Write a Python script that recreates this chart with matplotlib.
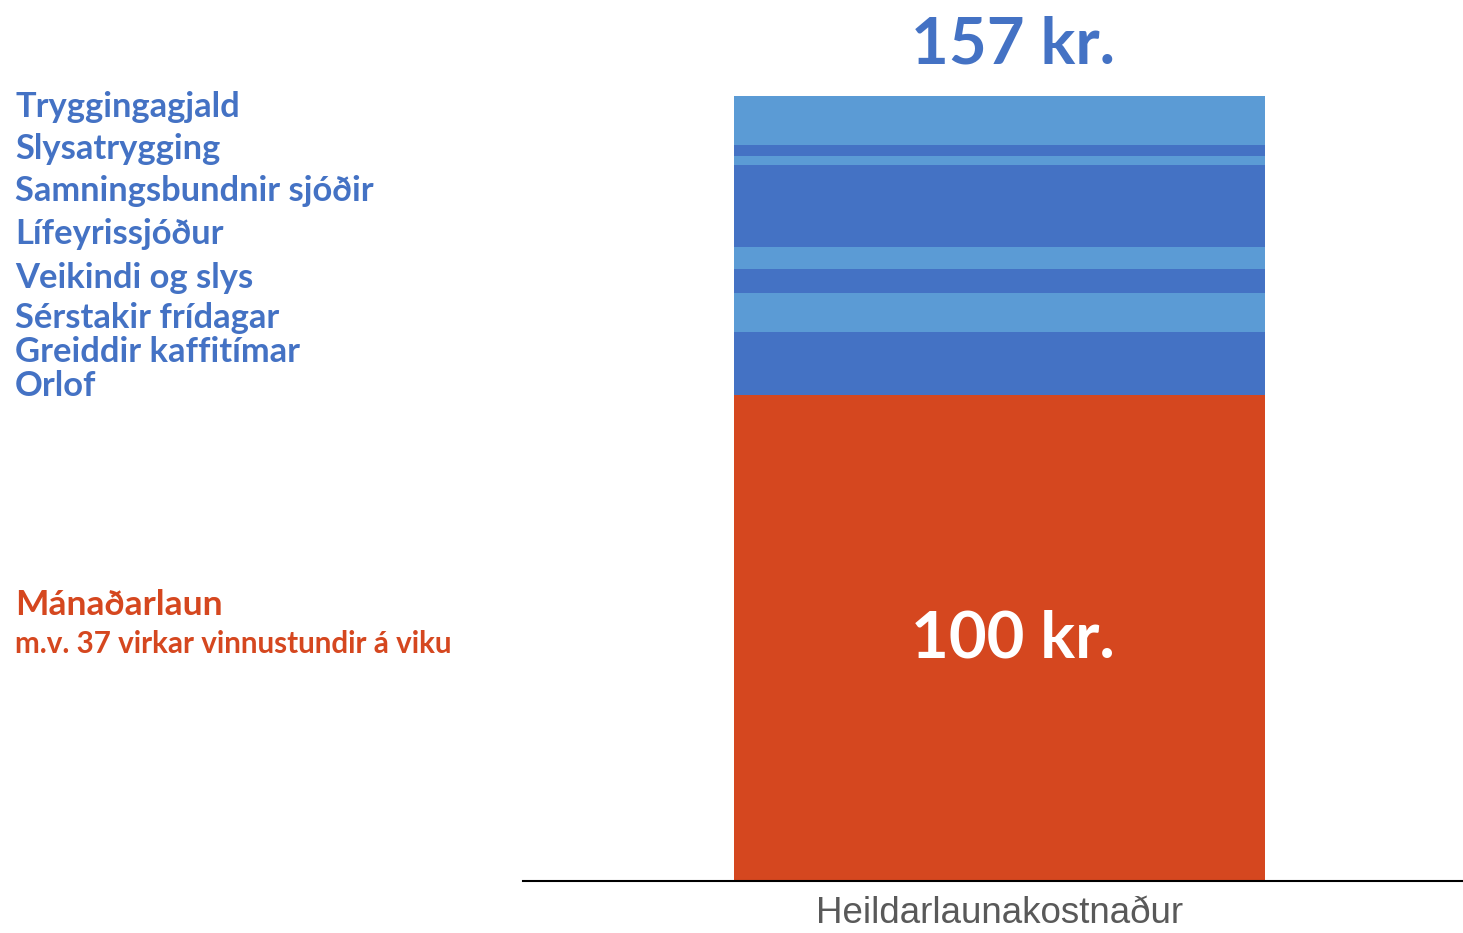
import matplotlib
matplotlib.use("Agg")
import matplotlib.pyplot as plt

# Data (kr., bottom to top)
category = ["Heildarlaunakostnaður"]
base_label = "Mánaðarlaun"
base_sub = "m.v. 37 virkar vinnustundir á viku"
base_value = 97.2
components = ["Orlof", "Greiddir kaffitímar", "Sérstakir frídagar", "Veikindi og slys",
              "Lífeyrissjóður", "Samningsbundnir sjóðir", "Slysatrygging", "Tryggingagjald"]
comp_values = [12.66, 7.8, 4.74, 4.46, 16.34, 1.8, 2.2, 9.8]
total_label = "157 kr."
base_text = "100 kr."

DARK = "#4472C4"
LIGHT = "#5B9BD5"
RED = "#D5471F"
FONT = ["Lato", "DejaVu Sans"]

W, H = 1463, 933
fig = plt.figure(figsize=(W / 100, H / 100), dpi=100)
ax = fig.add_axes([523 / W, (H - 881) / H, (W - 523) / W, 881 / H])

bw = 0.8
ax.bar(0, base_value, width=bw, color=RED, linewidth=0)
bottom = base_value
for i, v in enumerate(comp_values):
    ax.bar(0, v, width=bw, bottom=bottom, color=DARK if i % 2 == 0 else LIGHT, linewidth=0)
    bottom += v
total = bottom

ax.set_ylim(0, 881 / 5)
ax.set_xlim(-476.5 / 531 * bw, (940 - 476.5) / 531 * bw)
for s in ["top", "right", "left"]:
    ax.spines[s].set_visible(False)
ax.spines["bottom"].set_color("#000000")
ax.spines["bottom"].set_linewidth(1.5)
ax.set_yticks([])
ax.set_xticks([0])
ax.set_xticklabels(category, fontsize=26.5, color="#595959", family=["Liberation Sans", "DejaVu Sans"])
ax.tick_params(axis="x", length=0, pad=11)

# Big value labels
ax.text(0.02, total + 6.4, total_label, ha="center", va="baseline", fontsize=47,
        fontweight="bold", color=DARK, family=FONT)
ax.text(0.02, 44.8, base_text, ha="center", va="baseline", fontsize=47,
        fontweight="bold", color="white", family=FONT)

# Left legend labels (figure pixel coordinates)
def ftext(x, ybase, s, size, color):
    fig.text(x / W, 1 - ybase / H, s, ha="left", va="baseline", fontsize=size,
             fontweight="bold", color=color, family=FONT)

left_baselines = [396, 362, 328, 288, 244, 201, 159, 117]
for name, yb in zip(components, left_baselines):
    ftext(15, yb, name, 24.8, DARK)
ftext(15, 615, base_label, 25.5, RED)
ftext(15, 653, base_sub, 21.3, RED)

fig.savefig("out.png", dpi=100)
